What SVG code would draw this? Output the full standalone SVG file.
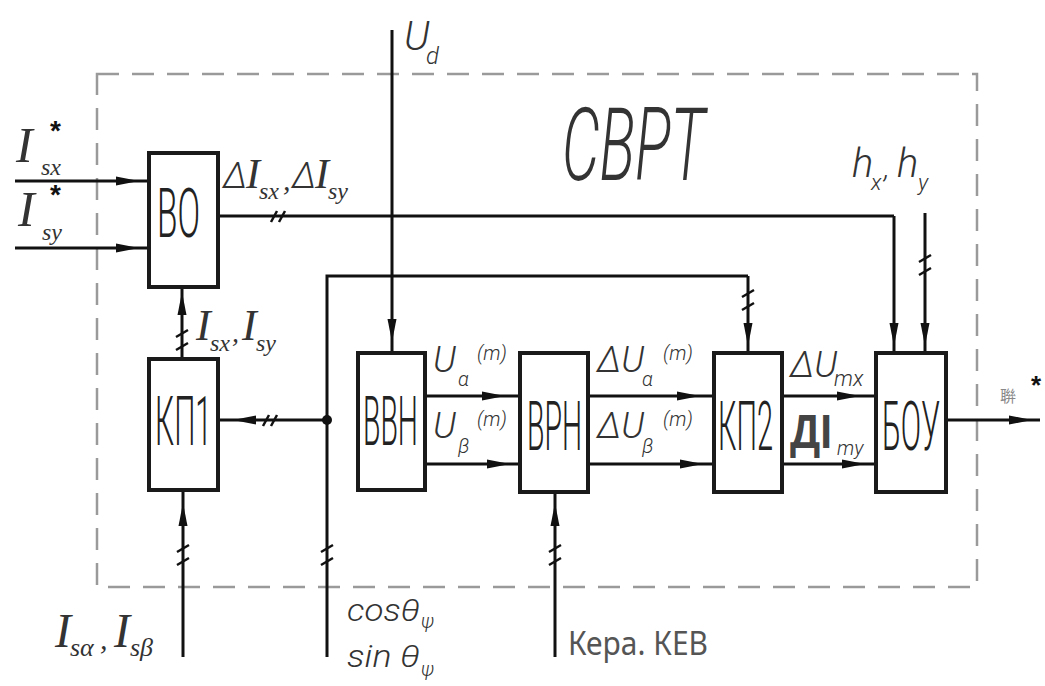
<svg xmlns="http://www.w3.org/2000/svg" width="1045" height="686" viewBox="0 0 1045 686">
<defs>
<style>
.box{fill:#fff;stroke:#1a1a1a;stroke-width:4}
.ln{fill:none;stroke:#111;stroke-width:3}
.arr{fill:none;stroke:#111;stroke-width:3;marker-mid:url(#ah)}
.tk{fill:none;stroke:#111;stroke-width:2.5}
.blk{font-family:Roboto,"Liberation Sans",sans-serif;font-weight:300;font-size:68px;fill:#222}
.it{font-family:Roboto,"Liberation Sans",sans-serif;font-style:italic;font-weight:300;fill:#333}
.ser{font-family:"Liberation Serif",serif;font-style:italic;fill:#333}
</style>
<marker id="ah" viewBox="-24 -5 26 10" refX="0" refY="0" markerWidth="26" markerHeight="10" markerUnits="userSpaceOnUse" orient="auto">
<path d="M0,0 L-23,-4.5 L-23,4.5 Z" fill="#111"/>
</marker>
<g id="tv"><path class="tk" d="M-6,-3 L6,-10 M-6,10 L6,3"/></g>
<g id="th"><path class="tk" d="M-9,6 L-3,-5 M-1,6 L5,-5"/></g>
</defs>
<rect width="1045" height="686" fill="#fff"/>
<rect x="97" y="74" width="880" height="513" fill="none" stroke="#9a9a9a" stroke-width="2.5" stroke-dasharray="22 13"/>

<g id="connectors">
<path class="arr" d="M15 181 L139 181 L149 181"/>
<path class="arr" d="M15 248 L139 248 L149 248"/>
<path class="ln" d="M218 216 H894"/>
<path class="arr" d="M894 216 L894 346 L894 353"/>
<path class="arr" d="M925 213 L925 346 L925 353"/>
<path class="arr" d="M392 30 L392 342 L392 353"/>
<path class="ln" d="M327 657 V276 H748"/>
<path class="arr" d="M748 276 L748 346 L748 353"/>
<path class="arr" d="M182 359 L182 292 L182 287"/>
<path class="arr" d="M327 420 L233 420 L218 420"/>
<path class="arr" d="M183 657 L183 503 L183 490"/>
<path class="arr" d="M555 657 L555 503 L555 492"/>
<path class="arr" d="M425 396 L505 396 L520 396"/>
<path class="arr" d="M425 464 L510 464 L520 464"/>
<path class="arr" d="M588 396 L700 396 L714 396"/>
<path class="arr" d="M588 464 L703 464 L714 464"/>
<path class="arr" d="M782 396 L860 396 L876 396"/>
<path class="arr" d="M782 464 L865 464 L876 464"/>
<path class="arr" d="M946 420 L1032 420 L1040 420"/>
<circle cx="327" cy="420" r="5" fill="#111"/>
<use href="#th" x="280" y="216"/>
<use href="#th" x="272" y="420"/>
<use href="#tv" x="182" y="340"/>
<use href="#tv" x="748" y="300"/>
<use href="#tv" x="925" y="265"/>
<use href="#tv" x="183" y="555"/>
<use href="#tv" x="327" y="555"/>
<use href="#tv" x="555" y="555"/>
</g>

<g id="node-vo"><rect class="box" x="149" y="153" width="69" height="134"/><text class="blk" x="157" y="237" textLength="43" lengthAdjust="spacingAndGlyphs">ВО</text></g>
<g id="node-kp1"><rect class="box" x="149" y="359" width="69" height="131"/><text class="blk" x="155" y="445" textLength="57" lengthAdjust="spacingAndGlyphs">КП1</text></g>
<g id="node-vvn"><rect class="box" x="358" y="353" width="67" height="137"/><text class="blk" x="363" y="445" textLength="55" lengthAdjust="spacingAndGlyphs">ВВН</text></g>
<g id="node-vrn"><rect class="box" x="520" y="353" width="68" height="139"/><text class="blk" x="527" y="450" textLength="55" lengthAdjust="spacingAndGlyphs">ВРН</text></g>
<g id="node-kp2"><rect class="box" x="714" y="353" width="68" height="139"/><text class="blk" x="718" y="450" textLength="55" lengthAdjust="spacingAndGlyphs">КП2</text></g>
<g id="node-bou"><rect class="box" x="876" y="353" width="70" height="139"/><text class="blk" x="882" y="450" textLength="58" lengthAdjust="spacingAndGlyphs">БОУ</text></g>

<g id="labels">
<text class="it" x="562" y="180" font-size="102" textLength="143" lengthAdjust="spacingAndGlyphs">СВРТ</text>
<text class="ser" x="16" y="162" font-size="50">I</text><text class="ser" x="41" y="175" font-size="24">sx</text><text x="50" y="140" font-size="28" font-family="Liberation Sans,sans-serif" font-weight="bold" fill="#111">*</text>
<text class="ser" x="18" y="226" font-size="50">I</text><text class="ser" x="42" y="240" font-size="24">sy</text><text x="50" y="204" font-size="28" font-family="Liberation Sans,sans-serif" font-weight="bold" fill="#111">*</text>
<text class="it" x="223" y="188" font-size="36">Δ</text><text class="ser" x="246" y="188" font-size="42">I</text><text class="ser" x="259" y="199" font-size="24">sx</text><text class="ser" x="283" y="190" font-size="30">,</text>
<text class="it" x="292" y="188" font-size="36">Δ</text><text class="ser" x="315" y="188" font-size="42">I</text><text class="ser" x="328" y="199" font-size="24">sy</text>
<text class="ser" x="196" y="340" font-size="44">I</text><text class="ser" x="210" y="351" font-size="24">sx</text><text class="ser" x="232" y="342" font-size="28">,</text><text class="ser" x="242" y="340" font-size="44">I</text><text class="ser" x="256" y="351" font-size="24">sy</text>
<text class="it" x="404" y="50" font-size="40">U</text><text class="it" x="426" y="64" font-size="24">d</text>
<text class="it" x="433" y="372" font-size="36">U</text><text class="it" x="458" y="386" font-size="20">α</text><text class="it" x="477" y="360" font-size="20">(m)</text>
<text class="it" x="433" y="438" font-size="36">U</text><text class="it" x="458" y="453" font-size="20">β</text><text class="it" x="477" y="426" font-size="20">(m)</text>
<text class="it" x="597" y="372" font-size="36">ΔU</text><text class="it" x="642" y="386" font-size="20">α</text><text class="it" x="663" y="360" font-size="20">(m)</text>
<text class="it" x="597" y="438" font-size="36">ΔU</text><text class="it" x="642" y="453" font-size="20">β</text><text class="it" x="663" y="426" font-size="20">(m)</text>
<text class="it" x="790" y="377" font-size="36">ΔU</text><text class="it" x="834" y="386" font-size="22">mx</text>
<text x="790" y="448" font-size="48" font-family="Liberation Sans,sans-serif" font-weight="bold" fill="#444" textLength="42" lengthAdjust="spacingAndGlyphs">ДІ</text><text class="it" x="837" y="455" font-size="20" fill="#999">my</text>
<text class="it" x="852" y="177" font-size="40">h</text><text class="it" x="871" y="190" font-size="22">x</text><text class="it" x="884" y="178" font-size="30">,</text><text class="it" x="897" y="177" font-size="40">h</text><text class="it" x="918" y="190" font-size="22">y</text>
<text class="it" x="347" y="621" font-size="32" textLength="73" lengthAdjust="spacingAndGlyphs">cosθ</text><text class="it" x="421" y="628" font-size="20">ψ</text>
<text class="it" x="347" y="667" font-size="32" textLength="73" lengthAdjust="spacingAndGlyphs">sin θ</text><text class="it" x="421" y="676" font-size="20">ψ</text>
<text class="ser" x="55" y="647" font-size="48">I</text><text class="ser" x="70" y="656" font-size="26">sα</text><text class="ser" x="100" y="649" font-size="30">,</text><text class="ser" x="114" y="647" font-size="48">I</text><text class="ser" x="130" y="656" font-size="26">sβ</text>
<text x="568" y="655" font-size="33" font-family="'Noto Sans','Liberation Sans',sans-serif" fill="#555" textLength="140" lengthAdjust="spacingAndGlyphs">Кера. КЕВ</text>
<text x="1000" y="402" font-size="16" font-family="'Noto Sans CJK SC',sans-serif" fill="#888">聨</text>
<text x="1031" y="394" font-size="26" font-family="Liberation Sans,sans-serif" font-weight="bold" fill="#111">*</text>
</g>
</svg>
